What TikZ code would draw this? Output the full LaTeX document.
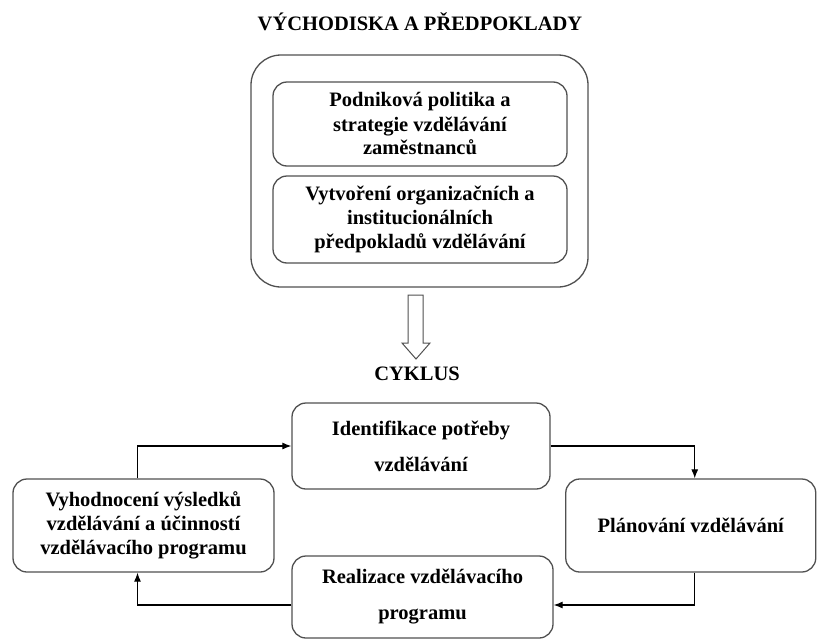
\documentclass[tikz,border=0pt]{standalone}
\usepackage{fontspec}
\setmainfont{Liberation Serif}
\usepackage{tikz}
\usetikzlibrary{
    positioning,
    arrows.meta,
    calc
}
\definecolor{boxGray}{RGB}{80, 80, 80}

\begin{document}
\begin{tikzpicture}[x=1pt, y=-1pt, >={Latex[length=9pt, width=7pt]},
    every node/.style={font=\fontsize{20.5}{24}\selectfont\bfseries, align=center},
    box/.style={draw=boxGray, line width=1.3pt, rounded corners=14pt, inner sep=0pt}]
            \useasboundingbox (0,0) rectangle (817,640);

            % vychodiska
            \node (title) at (420,22) {VÝCHODISKA A PŘEDPOKLADY};
            \node[box, rounded corners=30pt, minimum width=337pt, minimum height=232pt] (premises) at (419.5,171) {};
            \node[box, minimum width=294pt, minimum height=84pt] (policy) at (420,124) {Podniková politika a\\ strategie vzdělávání\\ zaměstnanců};
            \node[box, minimum width=294pt, minimum height=87pt] (orgPrereq) at (420,219.5) {Vytvoření organizačních a\\ institucionálních\\ předpokladů vzdělávání};

            \draw[boxGray, line width=1pt, fill=white] (408,295) -- (423,295) -- (423,343) -- (430,343)
                -- (416,359) -- (402,343) -- (408,343) -- cycle;

            % cyklus
            \node (cycle) at (417,374) {CYKLUS};
            \node[box, minimum width=258pt, minimum height=86pt] (ident) at (421,446) {Identifikace potřeby\\[12pt] vzdělávání};
            \node[box, minimum width=250pt, minimum height=93pt] (plan) at (690.75,525.5) {Plánování vzdělávání};
            \node[box, minimum width=261pt, minimum height=82pt] (real) at (422.5,597) {Realizace vzdělávacího\\[12pt] programu};
            \node[box, minimum width=261pt, minimum height=93pt] (eval) at (143.5,525.5) {Vyhodnocení výsledků\\ vzdělávání a účinností\\ vzdělávacího programu};

            \draw[->, line width=1.1pt] ([xshift=-6pt]eval.north) |- (ident.west);
            \draw[->, line width=1.1pt] (ident.east) -| ([xshift=4pt]plan.north);
            \draw[->, line width=1.1pt] ([xshift=4pt]plan.south) |- ([yshift=-8pt]real.east);
            \draw[->, line width=1.1pt] ([yshift=-8pt]real.west) -| ([xshift=-6pt]eval.south);
        \end{tikzpicture}
\end{document}
